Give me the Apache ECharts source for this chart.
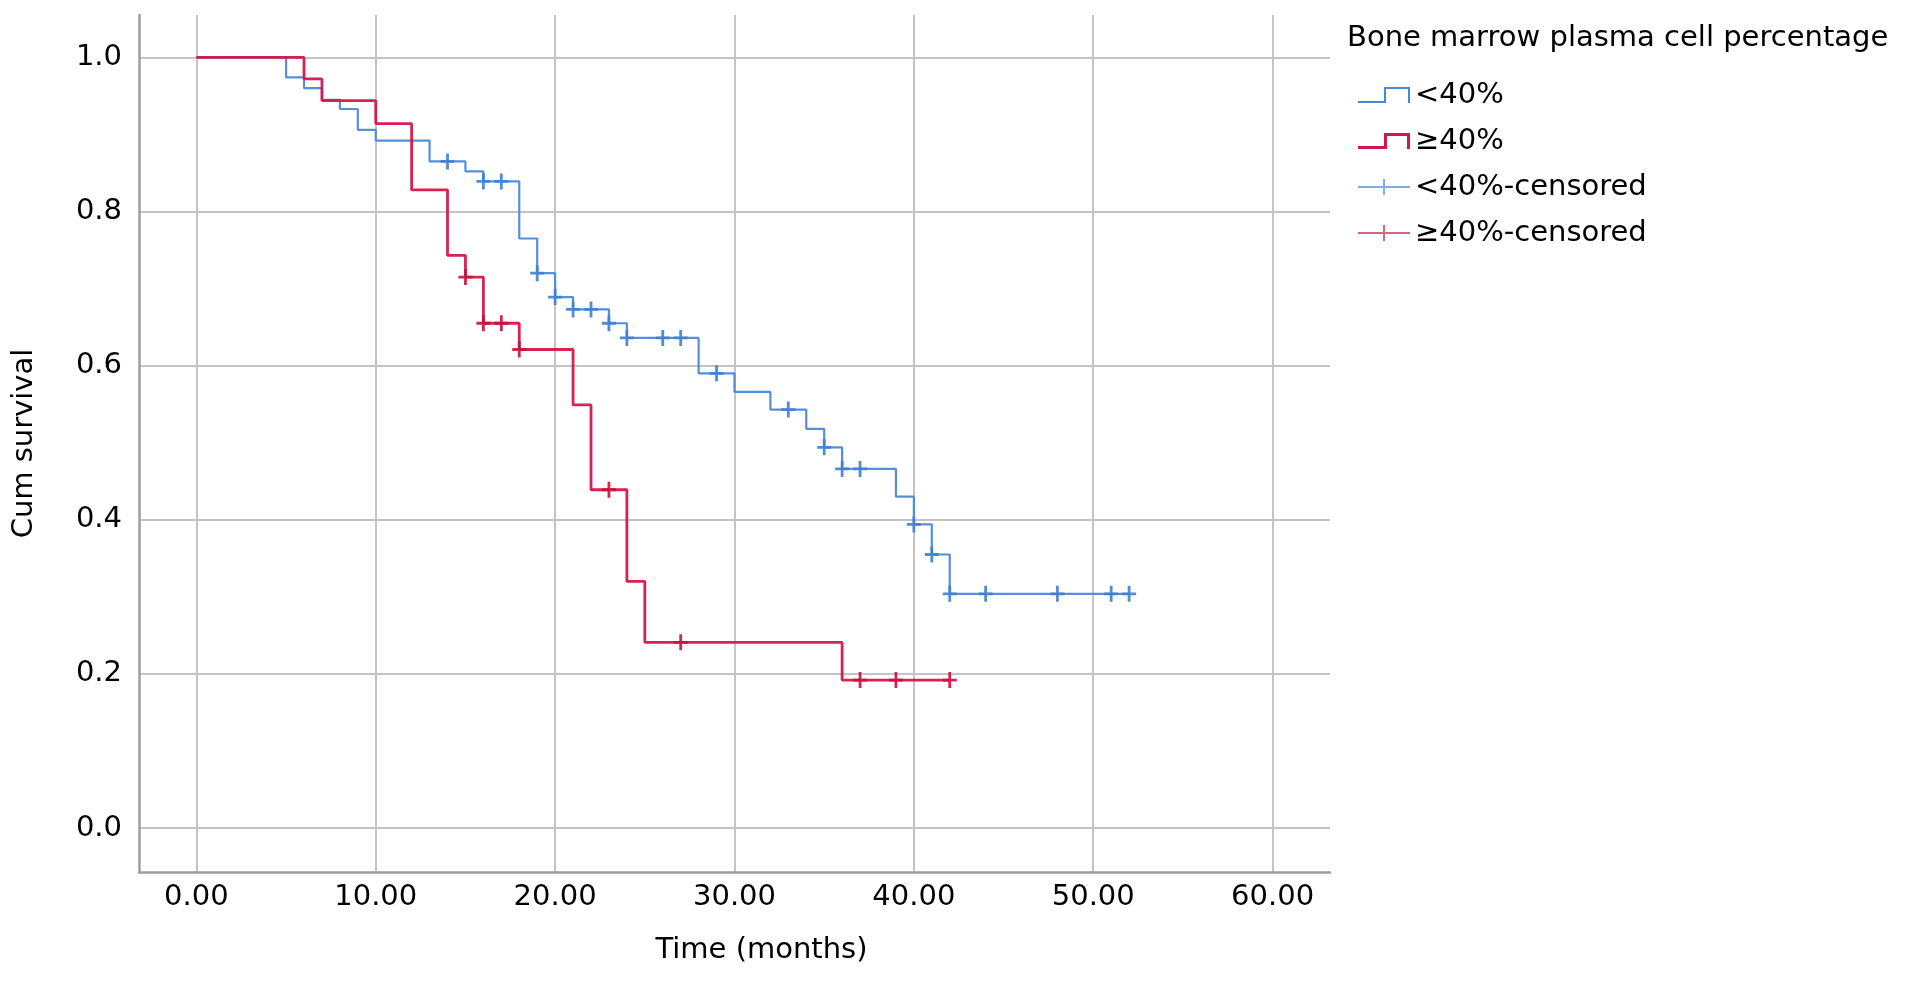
<!DOCTYPE html>
<html>
<head>
<meta charset="utf-8">
<script src="https://cdn.jsdelivr.net/npm/echarts@6/dist/echarts.min.js"></script>
<style>
html,body{margin:0;padding:0;background:#fff;}
#chart{width:1913px;height:984px;}
</style>
</head>
<body>
<div id="chart"></div>
<script>
// Kaplan-Meier step points (time in months, cumulative survival)
const blueTimes = [0,5,6,7,8,9,10,13,15,16,18,19,20,21,23,24,28,30,32,34,35,36,39,40,41,42,52];
const blueSurv  = [1,0.974,0.960,0.945,0.933,0.906,0.892,0.865,0.852,0.839,0.765,0.720,0.689,0.673,0.655,0.636,0.590,0.566,0.543,0.518,0.494,0.466,0.430,0.394,0.355,0.304,0.304];
const blueCensTimes = [14,16,17,19,20,21,22,23,24,26,27,29,33,35,36,37,40,41,42,44,48,51,52];
const blueCensSurv  = [0.865,0.839,0.839,0.720,0.689,0.673,0.673,0.655,0.636,0.636,0.636,0.590,0.543,0.494,0.466,0.466,0.394,0.355,0.304,0.304,0.304,0.304,0.304];

const redTimes = [0,6,7,10,12,14,15,16,18,21,22,24,25,36,42];
const redSurv  = [1,0.972,0.944,0.914,0.828,0.743,0.715,0.655,0.621,0.549,0.439,0.320,0.241,0.192,0.192];
const redCensTimes = [15,16,17,18,23,27,37,39,42];
const redCensSurv  = [0.715,0.655,0.655,0.621,0.439,0.241,0.192,0.192,0.192];

const seriesNames = ['<40%', '\u226540%', '<40%-censored', '\u226540%-censored'];
const legendTitle = 'Bone marrow plasma cell percentage';
const xAxisTitle = 'Time (months)';
const yAxisTitle = 'Cum survival';

const zip = (a, b) => a.map((v, i) => [v, b[i]]);

const BLUE = '#4a89d9';
const RED = '#d5164a';
const FONT = 'DejaVu Sans';

const plusSymbol = 'path://M0,6.6H14V9.4H0Z M5.6,0H8.4V16H5.6Z';
const stepIconThin = 'path://M0,14H26V0H52V16H50V2H28V16H0Z';
const stepIconThick = 'path://M0,13H26V0H52V16H49V3H29V16H0Z';
const plusIcon = 'path://M0,7H52V9H0Z M25,0H27V16H25Z';

const chart = echarts.init(document.getElementById('chart'), null, {renderer: 'canvas'});
chart.setOption({
  animation: false,
  backgroundColor: '#ffffff',
  textStyle: {fontFamily: FONT, color: '#000'},
  title: {
    text: legendTitle,
    left: 1347,
    top: 24,
    padding: 0,
    textStyle: {fontFamily: FONT, fontSize: 29, fontWeight: 'normal', color: '#000'}
  },
  legend: {
    orient: 'vertical',
    left: 1358,
    top: 78,
    padding: 0,
    itemWidth: 52,
    itemHeight: 16,
    itemGap: 12,
    itemStyle: {borderWidth: 0},
    textStyle: {fontFamily: FONT, fontSize: 29, color: '#000', lineHeight: 34},
    data: [
      {name: seriesNames[0], icon: stepIconThin},
      {name: seriesNames[1], icon: stepIconThick},
      {name: seriesNames[2], icon: plusIcon, itemStyle: {opacity: 0.65}},
      {name: seriesNames[3], icon: plusIcon, itemStyle: {opacity: 0.65}}
    ]
  },
  grid: {left: 139, right: 583, top: 15, bottom: 112, containLabel: false},
  xAxis: {
    type: 'value',
    min: -3.2,
    max: 63.2,
    name: xAxisTitle,
    nameLocation: 'middle',
    nameGap: 64,
    nameTextStyle: {fontFamily: FONT, fontSize: 29, color: '#000', padding: [0, 0, 0, 54]},
    axisLine: {onZero: false, lineStyle: {color: '#9e9e9e', width: 2.5}},
    axisTick: {show: false},
    axisLabel: {
      margin: 11, fontFamily: FONT, fontSize: 29, color: '#000',
      showMinLabel: false, showMaxLabel: false,
      formatter: v => (Math.abs(v / 10 - Math.round(v / 10)) < 1e-6 ? v.toFixed(2) : '')
    },
    splitLine: {show: true, showMinLine: false, showMaxLine: false, lineStyle: {color: '#c4c4c4', width: 2}}
  },
  yAxis: {
    type: 'value',
    min: -0.057,
    max: 1.055,
    name: yAxisTitle,
    nameLocation: 'middle',
    nameGap: 100,
    nameTextStyle: {fontFamily: FONT, fontSize: 29, color: '#000'},
    axisLine: {show: true, onZero: false, lineStyle: {color: '#9e9e9e', width: 2.5}},
    axisTick: {show: false},
    axisLabel: {
      margin: 17, fontFamily: FONT, fontSize: 29, color: '#000',
      showMinLabel: false, showMaxLabel: false,
      formatter: v => (Math.abs(v / 0.2 - Math.round(v / 0.2)) < 1e-6 ? v.toFixed(1) : '')
    },
    splitLine: {show: true, showMinLine: false, showMaxLine: false, lineStyle: {color: '#c4c4c4', width: 2}}
  },
  series: [
    {
      name: seriesNames[0], type: 'line', step: 'end',
      data: zip(blueTimes, blueSurv),
      symbol: 'none', showSymbol: false, color: BLUE,
      lineStyle: {color: BLUE, width: 2.2, opacity: 0.95}, z: 2
    },
    {
      name: seriesNames[2], type: 'scatter',
      data: zip(blueCensTimes, blueCensSurv),
      symbol: plusSymbol, symbolSize: [14, 16], color: '#3f7fd2',
      itemStyle: {color: '#3f7fd2', opacity: 0.9}, z: 3
    },
    {
      name: seriesNames[1], type: 'line', step: 'end',
      data: zip(redTimes, redSurv),
      symbol: 'none', showSymbol: false, color: RED,
      lineStyle: {color: RED, width: 2.8, opacity: 0.95}, z: 4
    },
    {
      name: seriesNames[3], type: 'scatter',
      data: zip(redCensTimes, redCensSurv),
      symbol: plusSymbol, symbolSize: [14, 16], color: '#c9113f',
      itemStyle: {color: '#c9113f', opacity: 0.9}, z: 5
    }
  ]
});
</script>
</body>
</html>
